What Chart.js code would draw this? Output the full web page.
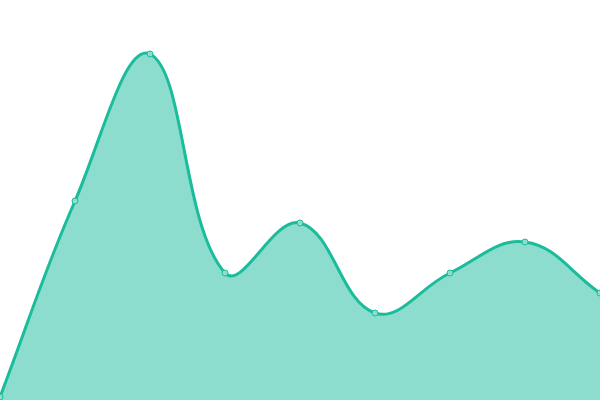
<!DOCTYPE html>
<html>
<head>
<meta charset="utf-8">
<script src="https://cdn.jsdelivr.net/npm/chart.js@4"></script>
<style>
html,body{margin:0;padding:0;background:#fff;}
#wrap{width:600px;height:400px;}
</style>
</head>
<body>
<div id="wrap"><canvas id="c" width="600" height="400"></canvas></div>
<script>
const labels = ['1','2','3','4','5','6','7','8','9'];
const values = [3, 199, 346, 127, 177, 87, 127, 158, 107];
const yMin = 0;
const yMax = 400;

new Chart(document.getElementById('c'), {
  type: 'line',
  data: {
    labels: labels,
    datasets: [{
      data: values,
      borderColor: '#1abc9c',
      backgroundColor: 'rgba(26,188,156,0.5)',
      borderWidth: 3,
      fill: 'origin',
      tension: 0.4,
      pointRadius: 3,
      pointBackgroundColor: '#8cdecd',
      pointBorderColor: '#1abc9c',
      pointBorderWidth: 1
    }]
  },
  options: {
    responsive: false,
    animation: false,
    layout: { padding: 0, autoPadding: false },
    plugins: { legend: { display: false }, tooltip: { enabled: false } },
    scales: {
      x: { display: false },
      y: { display: false, min: yMin, max: yMax }
    }
  }
});
</script>
</body>
</html>
